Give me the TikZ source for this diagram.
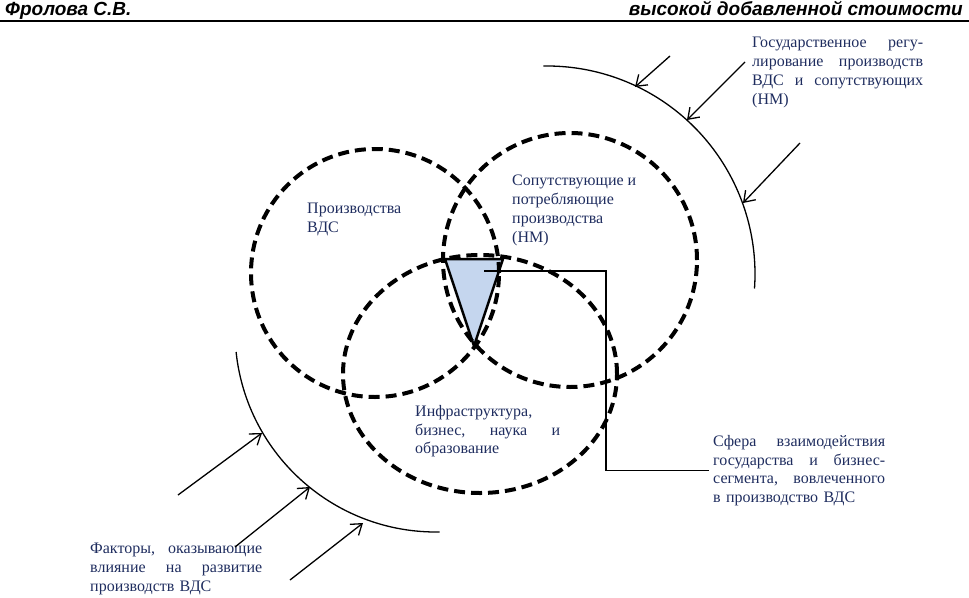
\documentclass[tikz,border=0pt]{standalone}
\usepackage{fontspec}
\setmainfont{Liberation Serif}
\newfontfamily\headfont{Liberation Sans}
\usepackage{tikz}
\usetikzlibrary{arrows.meta}
\usetikzlibrary{shapes.geometric}
\definecolor{zonetext}{RGB}{31,45,95}
\definecolor{crossfill}{RGB}{197,214,238}
\newcommand{\fullline}[2]{\makebox[#1][l]{#2}}

\begin{document}
\begin{tikzpicture}[x=1pt,y=1pt,>={Straight Barb[length=10pt,width=14pt]},
    venn node/.style={circle,draw,line width=4pt,dash pattern=on 11pt off 6pt,inner sep=0pt},
    zone text/.style={anchor=north west,inner sep=0pt,text=zonetext,align=left,font=\fontsize{16}{18.8}\selectfont},
    head text/.style={inner sep=0pt,font=\headfont\bfseries\itshape\fontsize{19}{22}\selectfont},
    factor arrow/.style={->,line width=1.3pt}]

    \useasboundingbox (0,0) rectangle (969,-597);

    \node[head text,anchor=base west] (author) at (5,-16) {Фролова С.В.};
    \node[head text,anchor=base east] (title) at (963,-16) {высокой добавленной стоимости};
    \draw[line width=1.5pt] (0,-21) -- (969,-21);

    \filldraw[fill=crossfill,line width=2.5pt,line join=round] (445,-259) -- (503,-259) -- (474,-346) -- cycle;
    \coordinate (cross) at (484,-271);

    \node[venn node,minimum size=248pt] (vds) at (375,-273) {};
    \node[venn node,minimum size=254pt] (related) at (570,-260) {};
    \node[venn node,ellipse,minimum width=274pt,minimum height=238pt] (infra) at (480,-374) {};

    \node[zone text] (vds label) at (307,-203) {Производства\\ВДС};
    \node[zone text] (related label) at (512,-175) {Сопутствующие и\\потребляющие\\производства\\(НМ)};
    \node[zone text,text width=145pt] (infra label) at (415,-405)
        {Инфраструктура,\\\fullline{145pt}{бизнес,\hfill наука\hfill и}\\образование};
    \node[zone text,text width=171pt] (gov label) at (752,-37)
        {\fullline{171pt}{Государственное\hfill регу-}\\\fullline{171pt}{лирование\hfill производств}\\\fullline{171pt}{ВДС\hfill и\hfill сопутствующих}\\(НМ)};
    \node[zone text,text width=172pt] (sphere label) at (713,-435)
        {\fullline{172pt}{Сфера\hfill взаимодействия}\\\fullline{172pt}{государства\hfill и\hfill бизнес-}\\\fullline{172pt}{сегмента,\hfill вовлеченного}\\в производство ВДС};
    \node[zone text,text width=172pt] (factor label) at (90,-543)
        {\fullline{172pt}{Факторы,\hfill оказывающие}\\\fullline{172pt}{влияние\hfill на\hfill развитие}\\производств ВДС};

    \draw[line width=1.2pt,shorten >=4pt] (cross) -- ++(122,0) |- (sphere label.west);

    \draw[line width=1.3pt] (547,-274) ++(91:208) arc[start angle=91,end angle=-4,radius=208];
    \draw[line width=1.3pt] (436,-331) ++(186:201) arc[start angle=186,end angle=271,radius=201];

    \coordinate (gov tail a) at (670,-56);
    \coordinate (gov tail b) at (745,-62);
    \coordinate (gov tail c) at (800,-143);
    \coordinate (gov head a) at (635,-87);
    \coordinate (gov head b) at (687,-120);
    \coordinate (gov head c) at (743,-203);
    \coordinate (factor tail a) at (178,-495);
    \coordinate (factor tail b) at (235,-547);
    \coordinate (factor tail c) at (290,-580);
    \coordinate (factor head a) at (262,-433);
    \coordinate (factor head b) at (310,-487);
    \coordinate (factor head c) at (363,-523);

    \draw[factor arrow] (gov tail a) -- (gov head a);
    \draw[factor arrow] (gov tail b) -- (gov head b);
    \draw[factor arrow] (gov tail c) -- (gov head c);
    \draw[factor arrow] (factor tail a) -- (factor head a);
    \draw[factor arrow] (factor tail b) -- (factor head b);
    \draw[factor arrow] (factor tail c) -- (factor head c);

\end{tikzpicture}
\end{document}
